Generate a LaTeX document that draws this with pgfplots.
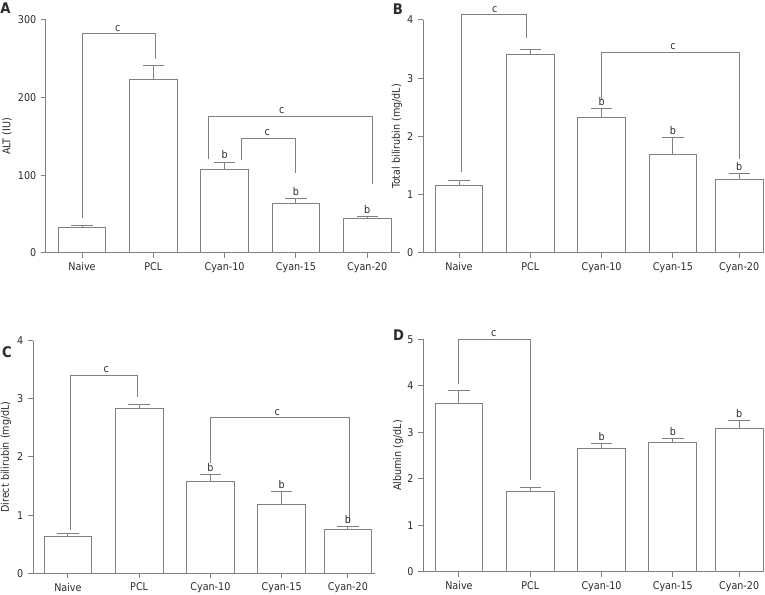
\documentclass[border=0pt]{standalone}
\usepackage{fontspec}
\setmainfont{DejaVu Sans Condensed}
\usepackage{pgfplots}
\pgfplotsset{compat=1.18}
\definecolor{lc}{HTML}{808080}
\definecolor{tc}{HTML}{2b2b2b}
\pgfplotsset{
  panel/.style={
    scale only axis, clip=false,
    axis x line*=bottom, axis y line*=left,
    axis line style={lc, line width=0.75pt},
    every tick/.style={lc, line width=0.75pt},
    tick align=outside, major tick length=3.75pt,
    ymin=0,
    font=\fontsize{8}{9.6}\selectfont,
    ticklabel style={tc},
    /pgf/number format/assume math mode=true,
    ylabel style={anchor=center, tc},
    xticklabels={Naive,PCL,Cyan-10,Cyan-15,Cyan-20},
  },
  mybar/.style={ybar, bar width=0.67, draw=lc, fill=white, line width=0.75pt,
    error bars/.cd, y dir=plus, y explicit,
    error bar style={lc, line width=0.75pt},
    error mark options={lc, rotate=90, mark size=8pt, line width=0.75pt}},
  brk/.style={lc, line width=0.75pt, sharp plot, mark=none},
}
\tikzset{lab/.style={tc, anchor=south, inner sep=1.5pt, font=\fontsize{8}{9.6}\selectfont}}
\begin{document}
\begin{tikzpicture}
\useasboundingbox (0,0) rectangle (573.75pt,446.25pt);
% Panel A
\begin{axis}[panel, at={(34.5pt,256.5pt)}, anchor=south west,
  width=265.5pt, height=174.75pt, xmin=-0.505, xmax=4.46, ymax=300,
  ytick={0,100,200,300}, xtick={0,1,2,3,4},
  ylabel={ALT (IU)}, ylabel style={at={(axis description cs:-0.110,0.5)}}]
\addplot[mybar] table[x=x,y=y,y error=e] {
x y e
0 33 2.7
1 223.6 18.1
2 107.3 9.5
3 64 6
4 44.7 2.5
};
\addplot[brk] coordinates {(0,45) (0,282) (1.03,282) (1.03,250)};
\addplot[brk] coordinates {(1.78,121) (1.78,176) (4.07,176) (4.07,89)};
\addplot[brk] coordinates {(2.24,120) (2.24,148) (2.99,148) (2.99,103)};
\node[lab] at (axis cs:0.5,282) {c};
\node[lab] at (axis cs:2.8,176) {c};
\node[lab] at (axis cs:2.6,148) {c};
\node[lab] at (axis cs:2,118) {b};
\node[lab] at (axis cs:3,71) {b};
\node[lab] at (axis cs:4,48) {b};
\end{axis}
% Panel B
\begin{axis}[panel, at={(317.25pt,256.5pt)}, anchor=south west,
  width=254.25pt, height=174.75pt, xmin=-0.505, xmax=4.25, ymax=4,
  ytick={0,1,2,3,4}, xtick={0,1,2,3,3.93},
  ylabel={Total bilirubin (mg/dL)}, ylabel style={at={(axis description cs:-0.0767,0.5)}}]
\addplot[mybar] table[x=x,y=y,y error=e] {
x y e
0 1.16 0.09
1 3.41 0.09
2 2.32 0.16
3 1.69 0.30
3.93 1.27 0.10
};
\addplot[brk] coordinates {(0.04,1.39) (0.04,4.09) (0.95,4.09) (0.95,3.69)};
\addplot[brk] coordinates {(2.0,2.63) (2.0,3.45) (3.94,3.45) (3.94,1.61)};
\node[lab] at (axis cs:0.5,4.09) {c};
\node[lab] at (axis cs:3.0,3.45) {c};
\node[lab] at (axis cs:2,2.49) {b};
\node[lab] at (axis cs:3,2.0) {b};
\node[lab] at (axis cs:3.93,1.38) {b};
\end{axis}
% Panel C
\begin{axis}[panel, at={(24.75pt,16.275pt)}, anchor=south west,
  width=256.5pt, height=174.45pt, xmin=-0.49, xmax=4.31, ymax=4,
  ytick={0,1,2,3,4}, xtick={0,1,2,3,3.93},
  ylabel={Direct bilirubin (mg/dL)}, ylabel style={at={(axis description cs:-0.0789,0.5)}}]
\addplot[mybar] table[x=x,y=y,y error=e] {
x y e
0 0.636 0.04
1 2.826 0.08
2 1.575 0.125
3 1.19 0.22
3.93 0.745 0.065
};
\addplot[brk] coordinates {(0.03,0.745) (0.03,3.41) (0.97,3.41) (0.97,3.04)};
\addplot[brk] coordinates {(2.0,1.89) (2.0,2.68) (3.95,2.68) (3.95,0.87)};
\node[lab] at (axis cs:0.54,3.41) {c};
\node[lab] at (axis cs:2.94,2.68) {c};
\node[lab] at (axis cs:2,1.71) {b};
\node[lab] at (axis cs:3,1.42) {b};
\node[lab] at (axis cs:3.93,0.82) {b};
\end{axis}
% Panel D
\begin{axis}[panel, at={(317.475pt,17.475pt)}, anchor=south west,
  width=254pt, height=174.3pt, xmin=-0.5, xmax=4.25, ymax=5,
  ytick={0,1,2,3,4,5}, xtick={0,1,2,3,3.93},
  ylabel={Albumin (g/dL)}, ylabel style={at={(axis description cs:-0.0738,0.5)}}]
\addplot[mybar] table[x=x,y=y,y error=e] {
x y e
0 3.616 0.28
1 1.73 0.08
2 2.66 0.09
3 2.78 0.09
3.93 3.09 0.16
};
\addplot[brk] coordinates {(0,4.04) (0,5.0) (1,5.0) (1,1.97)};
\node[lab] at (axis cs:0.49,5.0) {c};
\node[lab] at (axis cs:2,2.76) {b};
\node[lab] at (axis cs:3,2.88) {b};
\node[lab] at (axis cs:3.93,3.26) {b};
\end{axis}
% Panel letters
\node[font=\fontsize{11}{13}\selectfont\bfseries, tc] at (4.1pt,439.9pt) {A};
\node[font=\fontsize{11}{13}\selectfont\bfseries, tc] at (298.5pt,439.5pt) {B};
\node[font=\fontsize{11}{13}\selectfont\bfseries, tc] at (5.25pt,182.25pt) {C};
\node[font=\fontsize{11}{13}\selectfont\bfseries, tc] at (298.9pt,194.6pt) {D};
\end{tikzpicture}
\end{document}
